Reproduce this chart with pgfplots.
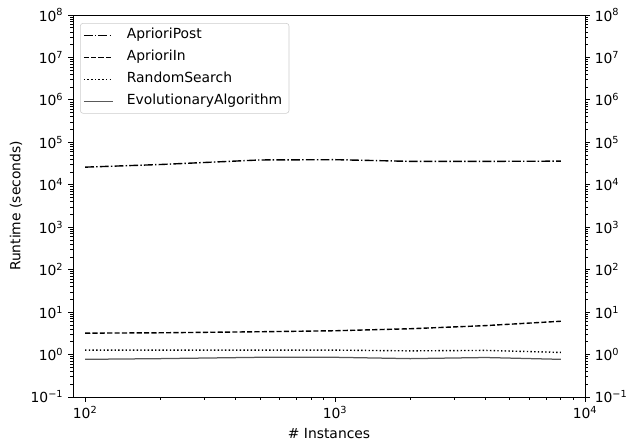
\documentclass[border=0pt]{standalone}
\usepackage{fontspec}
\setmainfont{DejaVu Sans}
\usepackage{pgfplots}
\usepackage{pgfplotstable}
\pgfplotsset{compat=1.18}

\pgfplotstableread{
x     post    in    rs    ea
100   2.6e4   3.19  1.27  0.77
200   3.0e4   3.25  1.27  0.80
500   3.84e4  3.44  1.27  0.86
1000  3.9e4   3.63  1.27  0.86
2000  3.56e4  4.05  1.22  0.80
4000  3.56e4  4.80  1.25  0.85
8000  3.6e4   6.08  1.12  0.77
}\data

\begin{document}
\fontsize{10}{12}\selectfont
\begin{tikzpicture}
\begin{axis}[
  scale only axis, width=368.6pt, height=275pt,
  xmode=log, ymode=log,
  xmin=89.5, xmax=1e4, ymin=0.1, ymax=1e8,
  axis line style={line width=0.6pt},
  tick align=outside,
  major tick length=3.5pt, minor tick length=2pt,
  every tick/.style={black, line width=0.6pt},
  every minor tick/.style={black, line width=0.45pt},
  tick label style={font=\fontsize{10}{12}\selectfont},
  ytick={1e-1,1,1e1,1e2,1e3,1e4,1e5,1e6,1e7,1e8},
  yticklabels={10\textsuperscript{−1},10\textsuperscript{0},10\textsuperscript{1},10\textsuperscript{2},10\textsuperscript{3},10\textsuperscript{4},10\textsuperscript{5},10\textsuperscript{6},10\textsuperscript{7},10\textsuperscript{8}},
  minor ytick={0.2,0.3,0.4,0.5,0.6,0.7,0.8,0.9,
    2,3,4,5,6,7,8,9,
    20,30,40,50,60,70,80,90,
    200,300,400,500,600,700,800,900,
    2e3,3e3,4e3,5e3,6e3,7e3,8e3,9e3,
    2e4,3e4,4e4,5e4,6e4,7e4,8e4,9e4,
    2e5,3e5,4e5,5e5,6e5,7e5,8e5,9e5,
    2e6,3e6,4e6,5e6,6e6,7e6,8e6,9e6,
    2e7,3e7,4e7,5e7,6e7,7e7,8e7,9e7},
  xtick pos=bottom, ytick pos=left,
  xtick={100,1000,10000},
  xticklabels={10\textsuperscript{2},10\textsuperscript{3},10\textsuperscript{4}},
  minor xtick={200,300,400,500,600,700,800,900,2000,3000,4000,5000,6000,7000,8000,9000},
  xlabel={\# Instances},
  ylabel={Runtime (seconds)},
  xlabel style={at={(axis description cs:0.5,-0.0945)}, anchor=center},
  ylabel style={at={(axis description cs:-0.1112,0.5)}, anchor=center},
  label style={font=\fontsize{10}{12}\selectfont},
  legend style={at={(axis description cs:0.0136,0.979)}, anchor=north west, draw=black!20, rounded corners=2pt,
    font=\fontsize{10}{12}\selectfont, row sep=0pt, column sep=6.5pt, inner xsep=2pt, inner ysep=0.8pt,
    nodes={inner xsep=3pt, inner ysep=2.9pt, text height=7.6pt, text depth=2.4pt}},
  legend cell align=left,
  legend image code/.code={\draw[#1] (0pt,0pt) -- (21pt,0pt);},
]
\addplot[black, line width=1pt, dash pattern=on 6.4pt off 1.6pt on 1pt off 1.6pt] table[x=x,y=post] {\data};
\addlegendentry{AprioriPost}
\addplot[black, line width=1pt, dash pattern=on 3.7pt off 1.6pt] table[x=x,y=in] {\data};
\addlegendentry{AprioriIn}
\addplot[black, line width=1pt, dash pattern=on 1pt off 1.65pt] table[x=x,y=rs] {\data};
\addlegendentry{RandomSearch}
\addplot[black!65, line width=0.9pt] table[x=x,y=ea] {\data};
\addlegendentry{EvolutionaryAlgorithm}
\end{axis}
\begin{axis}[
  scale only axis, width=368.6pt, height=275pt,
  xmode=log, ymode=log,
  xmin=89.5, xmax=1e4, ymin=0.1, ymax=1e8,
  axis y line*=right, axis x line=none,
  axis line style={line width=0.6pt},
  tick align=outside,
  major tick length=3.5pt, minor tick length=2pt,
  every tick/.style={black, line width=0.6pt},
  every minor tick/.style={black, line width=0.45pt},
  tick label style={font=\fontsize{10}{12}\selectfont},
  xtick=\empty,
  ytick={1e-1,1,1e1,1e2,1e3,1e4,1e5,1e6,1e7,1e8},
  yticklabels={10\textsuperscript{−1},10\textsuperscript{0},10\textsuperscript{1},10\textsuperscript{2},10\textsuperscript{3},10\textsuperscript{4},10\textsuperscript{5},10\textsuperscript{6},10\textsuperscript{7},10\textsuperscript{8}},
  minor ytick={0.2,0.3,0.4,0.5,0.6,0.7,0.8,0.9,
    2,3,4,5,6,7,8,9,
    20,30,40,50,60,70,80,90,
    200,300,400,500,600,700,800,900,
    2e3,3e3,4e3,5e3,6e3,7e3,8e3,9e3,
    2e4,3e4,4e4,5e4,6e4,7e4,8e4,9e4,
    2e5,3e5,4e5,5e5,6e5,7e5,8e5,9e5,
    2e6,3e6,4e6,5e6,6e6,7e6,8e6,9e6,
    2e7,3e7,4e7,5e7,6e7,7e7,8e7,9e7},
]
\addplot[draw=none] coordinates {(100,1)};
\end{axis}
\pgfresetboundingbox
\path ([xshift=-52.6pt,yshift=-33pt]current axis.south west) rectangle ([xshift=29.5pt,yshift=10.8pt]current axis.north east);
\end{tikzpicture}
\end{document}
